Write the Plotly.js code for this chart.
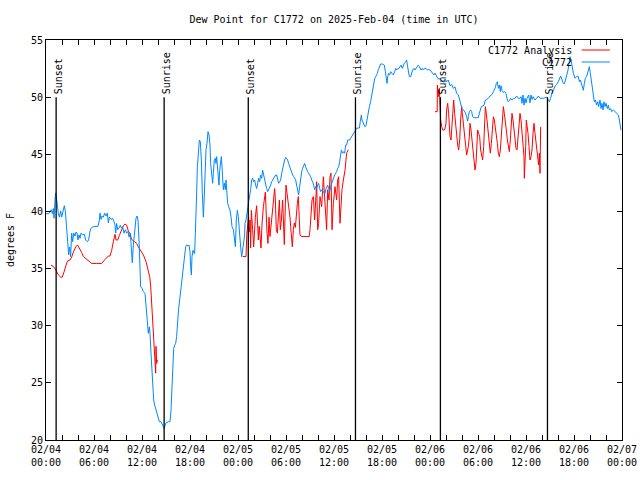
<!DOCTYPE html>
<html><head><meta charset="utf-8">
<script src="https://cdn.plot.ly/plotly-3.0.1.min.js"></script>
<style>html,body{margin:0;padding:0;background:#fff}#chart{width:640px;height:480px}</style>
</head><body><div id="chart"></div>
<script>
// Hours after 2025-02-04 00:00 UTC, dew point in degrees F
const stationReadings = [[0.0,39.8],[0.33,39.8],[0.67,40.15],[0.79,39.8],[0.92,40.25],[1.0,39.4],[1.125,41.0],[1.2,41.6],[1.29,41.3],[1.42,40.4],[1.54,39.8],[1.67,39.5],[1.83,40.05],[1.96,39.5],[2.13,40.1],[2.29,40.5],[2.42,40.0],[2.5,38.95],[2.63,38.4],[2.71,37.35],[2.83,36.2],[2.96,36.9],[3.08,36.05],[3.21,38.1],[3.33,37.35],[3.46,38.1],[3.63,37.85],[3.75,38.2],[3.88,38.1],[4.0,37.5],[4.13,37.95],[4.25,37.65],[4.38,38.1],[4.58,37.95],[4.79,38.0],[4.96,37.5],[5.17,37.35],[5.33,37.5],[5.46,38.1],[5.58,38.5],[5.83,38.65],[6.21,38.65],[6.5,38.7],[6.67,39.25],[6.75,39.85],[6.88,39.3],[7.0,39.6],[7.17,39.5],[7.33,39.85],[7.5,39.6],[7.67,39.85],[7.79,39.0],[7.92,39.5],[8.13,39.3],[8.33,39.4],[8.5,39.1],[8.63,38.8],[8.71,38.1],[8.83,38.95],[8.96,38.4],[9.13,38.55],[9.29,38.8],[9.42,38.55],[9.58,38.65],[9.75,38.1],[9.92,38.4],[10.08,38.1],[10.25,38.25],[10.38,37.75],[10.54,38.1],[10.67,36.9],[10.79,35.5],[10.92,37.05],[11.08,38.1],[11.25,39.4],[11.38,39.6],[11.5,39.25],[11.63,37.5],[11.71,35.0],[11.75,33.5],[11.83,33.4],[12.0,33.27],[12.17,32.98],[12.375,32.83],[12.5,31.96],[12.58,30.79],[12.71,30.5],[12.79,29.33],[12.92,29.9],[13.0,29.33],[13.125,27.6],[13.25,26.1],[13.33,24.4],[13.46,23.5],[13.58,23.06],[13.75,22.6],[13.92,22.33],[14.04,22.04],[14.17,21.6],[14.375,21.6],[14.5,21.46],[14.67,21.17],[14.75,21.02],[14.83,21.2],[15.0,21.5],[15.29,21.6],[15.5,21.6],[15.625,22.6],[15.75,24.8],[15.83,26.56],[15.96,28.0],[16.08,28.3],[16.21,28.46],[16.33,29.04],[16.46,30.5],[16.58,31.52],[16.71,32.25],[16.83,32.98],[16.96,33.71],[17.08,34.6],[17.21,35.6],[17.33,36.48],[17.46,36.92],[17.58,37.06],[17.75,37.0],[17.875,37.06],[18.0,36.48],[18.08,35.17],[18.17,34.44],[18.25,36.04],[18.375,36.6],[18.5,36.33],[18.58,36.33],[18.67,38.09],[18.79,39.84],[18.83,41.6],[18.92,43.9],[19.04,45.5],[19.17,46.25],[19.29,46.1],[19.42,44.5],[19.54,41.6],[19.67,39.5],[19.75,40.7],[19.875,43.19],[20.0,45.4],[20.125,45.96],[20.25,46.98],[20.375,46.69],[20.5,45.8],[20.58,44.2],[20.71,43.19],[20.83,42.46],[20.92,43.34],[21.04,44.5],[21.17,44.65],[21.25,44.2],[21.33,44.8],[21.46,43.9],[21.54,43.34],[21.625,42.3],[21.71,43.6],[21.83,44.2],[21.92,44.8],[22.0,43.9],[22.08,42.75],[22.17,41.9],[22.29,42.46],[22.42,41.9],[22.5,42.75],[22.58,41.44],[22.71,40.7],[22.83,40.42],[23.0,40.1],[23.125,39.54],[23.25,38.67],[23.42,38.4],[23.54,37.65],[23.67,36.92],[23.79,39.25],[23.92,40.1],[24.04,39.54],[24.125,38.4],[24.25,37.2],[24.33,36.9],[24.46,36.04],[24.58,36.9],[24.75,37.5],[24.83,37.95],[24.875,38.96],[25.0,39.25],[25.125,39.69],[25.25,40.42],[25.33,40.85],[25.45,41.3],[25.58,41.9],[25.71,42.75],[25.83,42.9],[25.96,42.6],[26.08,42.75],[26.21,42.3],[26.33,42.0],[26.46,42.46],[26.58,42.9],[26.71,42.6],[26.83,43.19],[26.96,42.9],[27.08,43.6],[27.21,43.19],[27.33,42.75],[27.46,42.46],[27.58,42.0],[27.71,41.73],[27.83,41.9],[27.96,42.17],[28.08,42.3],[28.21,42.6],[28.33,42.75],[28.46,42.9],[28.58,43.04],[28.71,43.19],[28.83,43.19],[28.96,42.75],[29.08,42.46],[29.21,42.6],[29.33,42.75],[29.46,43.34],[29.58,43.77],[29.71,44.06],[29.83,44.5],[29.96,44.73],[30.08,44.65],[30.21,44.5],[30.33,44.2],[30.46,43.9],[30.58,43.6],[30.71,43.34],[30.83,43.19],[30.96,43.04],[31.08,42.9],[31.21,42.75],[31.33,42.3],[31.46,41.9],[31.58,41.44],[31.71,42.17],[31.83,43.04],[31.96,43.48],[32.08,43.77],[32.21,44.06],[32.33,44.2],[32.46,43.9],[32.58,43.6],[32.71,43.48],[32.83,43.34],[32.96,43.19],[33.08,43.04],[33.21,42.75],[33.33,42.6],[33.46,42.3],[33.58,41.9],[33.71,42.17],[33.83,42.0],[33.96,42.3],[34.08,42.46],[34.21,42.0],[34.33,41.73],[34.46,41.9],[34.58,41.73],[34.71,41.73],[34.83,41.44],[34.96,41.9],[35.08,42.17],[35.21,42.3],[35.33,42.0],[35.46,41.73],[35.58,42.17],[35.71,42.46],[35.83,42.75],[35.96,43.04],[36.08,43.19],[36.21,43.34],[36.33,43.48],[36.46,43.77],[36.58,43.9],[36.71,44.35],[36.83,45.09],[36.92,45.38],[37.0,45.23],[37.08,45.09],[37.21,45.23],[37.33,45.09],[37.46,45.8],[37.58,45.8],[37.71,46.25],[37.83,46.25],[37.96,46.25],[38.08,46.4],[38.21,46.54],[38.33,46.69],[38.46,46.84],[38.58,46.98],[38.71,47.1],[38.83,47.27],[39.0,47.3],[39.17,47.3],[39.29,47.9],[39.42,48.44],[39.5,48.0],[39.67,47.7],[39.875,47.4],[40.0,47.5],[40.17,48.29],[40.29,48.73],[40.42,49.17],[40.58,49.6],[40.71,50.19],[40.83,50.63],[41.0,51.2],[41.08,51.6],[41.21,51.79],[41.33,51.94],[41.42,52.08],[41.54,52.4],[41.67,52.67],[41.83,52.9],[42.04,52.9],[42.29,52.8],[42.42,52.23],[42.54,51.6],[42.63,51.2],[42.71,51.79],[42.83,52.08],[42.96,51.94],[43.08,52.23],[43.25,52.08],[43.42,51.94],[43.58,52.23],[43.71,52.52],[43.83,52.37],[44.0,52.52],[44.13,52.52],[44.25,52.67],[44.38,52.8],[44.54,52.52],[44.67,52.8],[44.79,52.96],[44.96,53.1],[45.08,53.25],[45.17,52.8],[45.29,52.23],[45.42,51.79],[45.58,51.79],[45.71,52.23],[45.83,52.37],[46.0,52.52],[46.13,52.37],[46.25,52.52],[46.42,52.67],[46.54,52.8],[46.67,52.67],[46.75,52.52],[46.88,52.37],[47.04,52.52],[47.17,52.37],[47.33,52.52],[47.5,52.52],[47.67,52.37],[47.83,52.43],[48.0,52.37],[48.17,52.23],[48.33,52.0],[48.5,51.94],[48.63,52.1],[48.83,51.85],[49.0,51.6],[49.25,51.6],[49.46,51.4],[49.67,51.3],[49.88,51.6],[50.08,51.35],[50.29,51.5],[50.5,51.0],[50.71,51.1],[50.92,50.77],[51.13,50.9],[51.33,50.33],[51.54,50.2],[51.75,49.6],[51.88,49.1],[52.0,49.0],[52.17,48.88],[52.38,48.7],[52.58,48.3],[52.71,47.9],[52.79,48.3],[52.92,48.73],[53.08,48.88],[53.21,48.73],[53.33,48.3],[53.5,48.2],[53.83,48.2],[54.04,48.2],[54.17,48.6],[54.29,49.0],[54.42,49.17],[54.75,49.3],[54.92,49.75],[55.08,49.8],[55.29,49.9],[55.5,50.1],[55.71,50.2],[55.92,50.48],[56.17,50.85],[56.29,51.2],[56.42,51.35],[56.54,50.77],[56.67,51.06],[56.79,50.48],[56.88,51.0],[57.0,50.6],[57.17,50.4],[57.33,50.5],[57.5,50.3],[57.67,49.75],[57.79,49.6],[57.92,49.7],[58.08,49.9],[58.25,49.75],[58.42,49.9],[58.63,49.9],[58.83,50.1],[59.04,49.9],[59.25,49.9],[59.38,50.04],[59.5,49.46],[59.63,50.19],[59.75,49.3],[59.88,49.9],[60.0,49.5],[60.13,49.9],[60.33,50.19],[60.5,49.5],[60.63,50.19],[60.75,49.8],[60.88,50.04],[61.0,49.9],[61.13,49.75],[61.33,49.9],[61.54,50.1],[61.75,49.9],[62.17,49.9],[62.58,50.0],[62.79,49.75],[62.92,49.6],[63.08,49.9],[63.21,50.33],[63.42,50.6],[63.63,50.97],[63.83,51.1],[64.04,51.35],[64.33,51.85],[64.5,51.5],[64.67,51.2],[64.83,51.2],[64.96,51.5],[65.08,51.94],[65.25,52.37],[65.38,52.96],[65.5,53.54],[65.63,53.25],[65.75,52.67],[65.92,52.08],[66.13,51.65],[66.33,51.8],[66.54,51.8],[66.67,51.35],[66.79,51.5],[66.92,51.2],[67.04,50.9],[67.17,50.6],[67.29,51.2],[67.42,51.65],[67.58,51.8],[67.79,52.37],[67.92,52.67],[68.04,52.08],[68.17,51.5],[68.29,50.9],[68.42,50.33],[68.54,49.6],[68.67,49.75],[68.83,49.3],[68.96,49.6],[69.08,49.17],[69.25,49.75],[69.38,49.0],[69.5,49.46],[69.63,48.88],[69.75,49.6],[69.88,49.17],[70.0,49.46],[70.17,49.0],[70.29,49.3],[70.42,48.88],[70.58,49.0],[70.71,48.73],[70.92,48.88],[71.13,48.73],[71.33,48.6],[71.54,48.45],[71.67,48.0],[71.79,47.4],[71.88,47.1]];

const analysisDay1 = [[0.63,35.3],[0.9,35.2],[1.25,34.85],[1.54,34.45],[1.83,34.25],[2.04,34.25],[2.25,34.7],[2.46,35.1],[2.67,35.65],[3.0,35.75],[3.21,36.0],[3.42,36.45],[3.75,36.95],[3.96,37.05],[4.17,36.8],[4.46,36.4],[4.67,36.05],[5.08,35.8],[5.5,35.6],[5.71,35.45],[6.33,35.45],[6.96,35.45],[7.38,35.8],[7.79,36.1],[8.0,36.1],[8.21,36.6],[8.42,37.35],[8.63,38.0],[8.75,37.5],[8.96,37.5],[9.17,37.9],[9.46,38.4],[9.67,38.75],[9.88,38.9],[10.08,38.8],[10.29,38.3],[10.5,38.05],[10.71,37.55],[11.13,37.35],[11.33,37.2],[11.54,36.9],[11.75,36.7],[12.17,36.2],[12.5,35.6],[12.79,34.9],[12.96,34.3],[13.08,33.55],[13.21,31.95],[13.29,30.2],[13.5,28.2],[13.63,27.0],[13.71,25.85],[13.75,28.2],[13.83,26.7],[13.92,27.0]];

const analysisDay2 = [[24.6,36.05],[25.0,36.05],[25.1,38.0],[25.33,39.5],[25.45,38.2],[25.5,39.25],[25.58,36.8],[25.67,40.1],[25.83,38.4],[25.96,36.9],[26.17,39.5],[26.33,40.5],[26.45,38.9],[26.54,37.5],[26.65,38.7],[26.75,38.1],[26.875,36.8],[27.0,38.9],[27.17,40.4],[27.42,41.7],[27.5,39.8],[27.63,38.1],[27.75,37.2],[27.875,39.5],[28.0,37.8],[28.17,39.2],[28.33,40.7],[28.58,42.0],[28.67,41.0],[28.79,38.4],[28.92,38.1],[29.04,39.8],[29.17,41.0],[29.29,38.4],[29.42,39.25],[29.58,41.0],[29.71,38.7],[29.79,37.1],[29.92,40.7],[30.0,42.3],[30.125,41.6],[30.25,41.0],[30.375,40.4],[30.5,39.5],[30.58,38.7],[30.67,37.8],[30.79,36.9],[30.92,38.4],[31.04,39.0],[31.17,38.6],[31.29,39.8],[31.42,40.7],[31.54,41.3],[31.63,40.0],[31.75,37.9],[32.0,37.8],[32.5,37.8],[32.9,37.8],[33.0,38.4],[33.125,40.1],[33.25,41.0],[33.42,41.3],[33.58,39.25],[33.75,41.44],[33.83,42.6],[33.96,38.4],[34.08,38.96],[34.25,41.3],[34.46,40.42],[34.67,43.04],[34.79,41.3],[34.96,39.54],[35.08,38.4],[35.21,41.9],[35.375,41.0],[35.5,43.04],[35.625,43.34],[35.75,38.4],[35.92,40.7],[36.125,42.17],[36.33,41.0],[36.46,42.75],[36.58,43.04],[36.75,38.96],[36.875,41.0],[37.0,41.9],[37.17,42.75],[37.375,43.6],[37.58,45.09],[37.79,45.4]];

const analysisDay3 = [[48.625,48.73],[48.9,48.73],[48.92,51.06],[49.04,50.04],[49.17,50.77],[49.25,49.46],[49.33,48.0],[49.46,47.42],[49.58,47.13],[49.83,47.13],[50.0,47.7],[50.08,48.87],[50.21,49.46],[50.33,48.58],[50.42,47.7],[50.5,46.54],[50.625,46.25],[50.75,47.42],[50.875,49.17],[50.96,49.75],[51.08,48.58],[51.21,47.42],[51.33,46.54],[51.46,45.8],[51.58,45.375],[51.71,46.25],[51.83,48.0],[51.96,49.17],[52.04,48.58],[52.17,47.7],[52.29,46.54],[52.42,45.96],[52.58,44.94],[52.71,45.375],[52.79,45.67],[52.92,46.54],[53.0,47.71],[53.125,47.13],[53.25,46.25],[53.375,45.375],[53.5,44.5],[53.625,43.63],[53.75,44.2],[53.83,45.67],[53.96,47.13],[54.08,46.83],[54.21,46.54],[54.33,45.375],[54.46,44.79],[54.58,44.5],[54.71,45.67],[54.79,46.83],[54.92,49.17],[55.04,48.58],[55.17,47.71],[55.29,46.54],[55.42,45.96],[55.54,45.1],[55.67,45.96],[55.79,47.42],[55.92,48.29],[56.04,48.0],[56.17,47.42],[56.29,46.54],[56.42,45.96],[56.54,45.1],[56.67,44.79],[56.79,45.375],[56.92,46.54],[57.04,48.0],[57.17,49.17],[57.29,48.58],[57.42,48.0],[57.54,47.13],[57.67,46.25],[57.79,45.67],[57.92,45.23],[58.04,46.25],[58.17,47.71],[58.25,48.58],[58.375,48.0],[58.5,47.13],[58.625,46.25],[58.75,45.52],[58.875,45.38],[59.0,46.54],[59.125,47.71],[59.25,48.58],[59.375,48.0],[59.5,46.83],[59.625,45.67],[59.75,44.79],[59.79,42.9],[59.875,43.92],[59.96,45.67],[60.04,48.0],[60.17,47.42],[60.25,46.83],[60.375,45.67],[60.5,44.5],[60.625,44.79],[60.75,45.375],[60.875,46.83],[61.0,47.71],[61.125,46.83],[61.25,45.96],[61.375,45.1],[61.5,44.5],[61.58,44.06],[61.67,45.1],[61.75,43.33],[61.83,47.4]];

const sunEventTimes = ['2025-02-04 01:16','2025-02-04 14:46','2025-02-05 01:17','2025-02-05 14:41','2025-02-06 01:18','2025-02-06 14:41'];
const sunEventLabels = ['Sunset','Sunrise','Sunset','Sunrise','Sunset','Sunrise'];
const seriesNames = ['C1772 Analysis','C1772'];
const seriesColors = ['#ff0000','#0088ff'];
const startUTC = Date.UTC(2025,1,4,0,0,0);

const FONT = 'DejaVu Sans Mono, Liberation Mono, monospace';
function toTime(h){ return new Date(startUTC + Math.round(h*3600000)).toISOString().slice(0,19).replace('T',' '); }
function mkTrace(rows, name, color){
  return {type:'scatter', mode:'lines', name:name, x:rows.map(r=>toTime(r[0])), y:rows.map(r=>r[1]),
    line:{color:color, width:1}, showlegend:false, hoverinfo:'x+y'};
}
const traces = [
  mkTrace(analysisDay1, seriesNames[0], seriesColors[0]),
  mkTrace(analysisDay2, seriesNames[0], seriesColors[0]),
  mkTrace(analysisDay3, seriesNames[0], seriesColors[0]),
  mkTrace(stationReadings, seriesNames[1], seriesColors[1])
];

const shapes = sunEventTimes.map(t=>({type:'line', xref:'x', yref:'y', x0:t, x1:t, y0:20, y1:50, line:{color:'#000', width:1.3}, layer:'above'}));
const annotations = sunEventTimes.map((t,i)=>({xref:'x', yref:'y', x:t, y:50, yanchor:'bottom', xanchor:'center', xshift:2, yshift:1,
  text:sunEventLabels[i], textangle:-90, showarrow:false, font:{family:FONT, size:10, color:'#000'}}));

// legend (text left of sample line, as in the original)
seriesNames.forEach((n,i)=>{
  const yy = i===0 ? 0.975 : 0.945;
  annotations.push({xref:'paper', yref:'paper', x:0.917, y:yy, xanchor:'right', yanchor:'middle', text:n, showarrow:false,
    font:{family:FONT, size:10, color:'#000'}});
  shapes.push({type:'line', xref:'paper', yref:'paper', x0:0.930, x1:0.979, y0:yy, y1:yy, line:{color:seriesColors[i], width:1}});
});

const layout = {
  width:640, height:480,
  margin:{l:46, r:18, t:40, b:40, pad:0},
  paper_bgcolor:'#fff', plot_bgcolor:'#fff',
  font:{family:FONT, size:10, color:'#000'},
  title:{text:'Dew Point for C1772 on 2025-Feb-04 (time in UTC)', x:0.5, xref:'paper', y:0.96, yref:'container', yanchor:'middle',
    font:{family:FONT, size:10, color:'#000'}},
  xaxis:{type:'date', range:['2025-02-04 00:00','2025-02-07 00:00'], tick0:'2025-02-04 00:00', dtick:6*3600000,
    tickformat:'%m/%d<br>%H:%M', ticks:'inside', ticklen:5, tickcolor:'#000', tickwidth:1,
    minor:{dtick:2*3600000, ticks:'inside', ticklen:5, tickcolor:'#000', tickwidth:1, showgrid:false},
    showline:true, linecolor:'#000', linewidth:1, mirror:'ticks', showgrid:false, zeroline:false,
    tickfont:{family:FONT, size:10, color:'#000'}, fixedrange:true},
  yaxis:{range:[20,55], dtick:5, tick0:20, ticks:'inside', ticklen:5, tickcolor:'#000', tickwidth:1,
    showline:true, linecolor:'#000', linewidth:1, mirror:'ticks', showgrid:false, zeroline:false,
    tickfont:{family:FONT, size:10, color:'#000'},
    title:{text:'degrees F', standoff:14, font:{family:FONT, size:10, color:'#000'}}},
  shapes:shapes, annotations:annotations, showlegend:false
};
Plotly.newPlot('chart', traces, layout, {staticPlot:true, displayModeBar:false});
</script></body></html>
